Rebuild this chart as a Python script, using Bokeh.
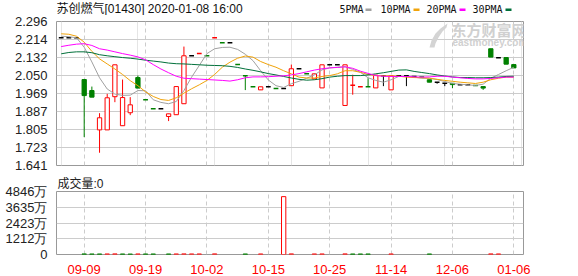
from bokeh.plotting import figure
from bokeh.models import (ColumnDataSource, Range1d, FixedTicker, Grid, Label,
                          NumeralTickFormatter, CustomJSTickFormatter)
from bokeh.core.properties import value
from bokeh.layouts import column
from bokeh.embed import file_html
from bokeh.resources import INLINE

# ---------------- data ----------------
title_text = "苏创燃气[01430] 2020-01-08 16:00"
volume_title = "成交量:0"
date_labels = ["09-09", "09-19", "10-02", "10-15", "10-25", "11-14", "12-06", "01-06"]
date_label_index = [3, 11, 19, 27, 35, 43, 51, 59]
price_ticks = [1.641, 1.723, 1.805, 1.887, 1.969, 2.050, 2.132, 2.214, 2.296]
volume_ticks = [0, 1212, 2423, 3635, 4846]          # 万
ma_names = ["5PMA", "10PMA", "20PMA", "30PMA"]

open_ = [2.222, 2.222, 2.222, 2.032, 1.982, 1.803, 1.803, 1.954, 1.822, 1.881,
         2.041, 1.940, 1.899, 1.899, 1.864, 1.872, 1.922, 2.140, 2.150, 2.140,
         2.222, 2.199, 2.199, 2.100, 2.049, 1.999, 1.985, 1.999, 1.991, 1.991,
         2.004, 2.081, 2.058, 2.035, 1.994, 2.099, 2.099, 1.914, 2.006, 1.999,
         1.999, 1.994, 2.049, 1.985, 2.049, 2.049, 2.046, 2.043, 2.031, 2.020,
         2.015, 2.015, 2.008, 2.008, 2.005, 2.000, 2.172, 2.131, 2.132, 2.100]
high = [2.222, 2.222, 2.222, 2.032, 2.000, 1.879, 1.967, 2.099, 2.032, 1.952,
        2.050, 1.940, 1.899, 1.899, 1.876, 2.000, 2.182, 2.140, 2.150, 2.140,
        2.222, 2.199, 2.199, 2.100, 2.049, 1.999, 1.999, 1.999, 1.991, 1.991,
        2.100, 2.081, 2.058, 2.058, 2.099, 2.099, 2.099, 2.099, 2.054, 1.999,
        2.038, 2.052, 2.049, 2.049, 2.049, 2.049, 2.046, 2.043, 2.031, 2.020,
        2.015, 2.015, 2.008, 2.008, 2.005, 2.000, 2.172, 2.131, 2.132, 2.100]
low = [2.222, 2.222, 2.222, 1.770, 1.952, 1.699, 1.803, 1.929, 1.822, 1.870,
       1.993, 1.940, 1.899, 1.899, 1.843, 1.872, 1.922, 2.140, 2.150, 2.140,
       2.222, 2.199, 2.199, 2.100, 1.984, 1.999, 1.985, 1.999, 1.991, 1.991,
       2.004, 2.081, 2.058, 2.035, 1.994, 2.099, 2.099, 1.914, 1.963, 1.999,
       1.999, 1.994, 2.002, 1.985, 2.049, 2.002, 2.046, 2.043, 2.020, 2.013,
       2.002, 1.993, 2.008, 2.008, 2.005, 1.985, 2.134, 2.131, 2.102, 2.085]
close = [2.222, 2.222, 2.222, 1.959, 1.952, 1.858, 1.949, 2.099, 1.950, 1.917,
         1.993, 1.940, 1.899, 1.899, 1.876, 2.000, 2.140, 2.140, 2.150, 2.140,
         2.222, 2.199, 2.199, 2.100, 2.049, 1.999, 1.999, 1.999, 1.991, 1.991,
         2.081, 2.081, 2.058, 2.058, 2.099, 2.099, 2.099, 2.099, 2.006, 1.999,
         1.999, 2.052, 2.049, 2.049, 2.049, 2.049, 2.046, 2.043, 2.020, 2.020,
         2.015, 2.009, 2.008, 2.008, 2.005, 1.993, 2.134, 2.131, 2.102, 2.085]
# colour direction of each candle as drawn: 1 red, -1 green, 0 black
candle_dir = [0, 0, 0, -1, -1, 1, 1, 1, 1, 1,
              -1, -1, -1, 0, 1, 1, 1, 0, 1, -1,
              1, -1, 0, -1, -1, -1, 1, 0, -1, 0,
              1, 0, -1, 1, 1, 0, 0, 1, 1, 1,
              -1, 1, 0, 1, 0, 0, 0, -1, -1, 0,
              0, -1, 0, 0, -1, -1, -1, 0, -1, -1]
# volume in 万 shares, and its colour direction
volume = [0, 0, 0, 45, 40, 40, 40, 45, 40, 35,
          40, 40, 40, 0, 40, 40, 45, 40, 40, 0,
          45, 0, 0, 0, 40, 0, 40, 0, 0, 4450,
          45, 0, 0, 40, 40, 0, 0, 45, 40, 40,
          40, 0, 0, 40, 0, 0, 0, 0, 40, 0,
          0, 0, 0, 0, 0, 0, 45, 40, 0, 0]
volume_dir = [0, 0, 0, -1, -1, -1, 1, 1, -1, -1,
              1, -1, -1, 0, -1, 1, 1, 1, 1, 0,
              1, 0, 0, 0, -1, 0, 1, 0, 0, 1,
              1, 0, 0, 1, 1, 0, 0, 1, -1, -1,
              -1, 0, 0, 1, 0, 0, 0, 0, -1, 0,
              0, 0, 0, 0, 0, 0, 1, 1, 0, 0]

ma5 = [2.229, 2.227, 2.222, 2.179, 2.112, 2.040, 1.989, 1.966, 1.960, 1.961,
       1.982, 1.981, 1.940, 1.928, 1.922, 1.932, 1.982, 2.043, 2.096, 2.150,
       2.172, 2.178, 2.179, 2.169, 2.147, 2.118, 2.072, 2.030, 2.004, 1.996,
       2.013, 2.024, 2.038, 2.053, 2.076, 2.085, 2.088, 2.090, 2.078, 2.065,
       2.040, 2.028, 2.020, 2.031, 2.046, 2.046, 2.043, 2.038, 2.038, 2.032,
       2.023, 2.014, 2.011, 2.008, 2.005, 2.011, 2.038, 2.055, 2.072, 2.088]
ma10 = [2.240, 2.238, 2.229, 2.202, 2.160, 2.126, 2.103, 2.080, 2.055, 2.027,
        2.004, 1.976, 1.955, 1.941, 1.937, 1.949, 1.970, 1.990, 2.008, 2.028,
        2.055, 2.088, 2.111, 2.129, 2.139, 2.134, 2.114, 2.100, 2.088, 2.072,
        2.058, 2.043, 2.039, 2.039, 2.046, 2.050, 2.058, 2.072, 2.072, 2.065,
        2.055, 2.050, 2.049, 2.049, 2.047, 2.043, 2.041, 2.040, 2.038, 2.033,
        2.028, 2.024, 2.020, 2.017, 2.014, 2.020, 2.031, 2.038, 2.043, 2.043]
ma20 = [2.182, 2.188, 2.193, 2.195, 2.187, 2.172, 2.166, 2.158, 2.150, 2.143,
        2.135, 2.122, 2.100, 2.080, 2.063, 2.047, 2.038, 2.036, 2.034, 2.032,
        2.030, 2.028, 2.025, 2.031, 2.040, 2.044, 2.044, 2.045, 2.047, 2.049,
        2.053, 2.059, 2.067, 2.075, 2.081, 2.085, 2.087, 2.090, 2.083, 2.070,
        2.060, 2.050, 2.047, 2.046, 2.046, 2.046, 2.044, 2.043, 2.044, 2.047,
        2.047, 2.043, 2.040, 2.037, 2.035, 2.035, 2.037, 2.040, 2.043, 2.043]
ma30 = [2.149, 2.155, 2.158, 2.158, 2.154, 2.145, 2.140, 2.136, 2.132, 2.129,
        2.125, 2.120, 2.116, 2.112, 2.107, 2.104, 2.103, 2.101, 2.099, 2.097,
        2.096, 2.095, 2.092, 2.087, 2.080, 2.074, 2.067, 2.059, 2.053, 2.046,
        2.039, 2.033, 2.029, 2.031, 2.036, 2.043, 2.047, 2.050, 2.050, 2.050,
        2.053, 2.058, 2.063, 2.069, 2.075, 2.076, 2.069, 2.064, 2.059, 2.053,
        2.048, 2.044, 2.041, 2.041, 2.040, 2.040, 2.041, 2.043, 2.046, 2.047]

# ---------------- styling ----------------
UP, DOWN, FLAT = "#ff0000", "#008000", "#000000"
COL = {1: UP, -1: DOWN, 0: FLAT}
MA_COLORS = ["#a0a0a0", "#f0a30a", "#ff00ff", "#00703a"]
GRID = "#cccccc"
BORDER = "#999999"
W = 578
HEAD_H = 15
FRAME_L, FRAME_R = 56, 523
X0, X1 = -0.61, 60.26
P_LO, P_HI = price_ticks[0], price_ticks[-1]
MAIN_TOP, MAIN_FRAME_H = 21, 144      # page pixels

def sx(px):
    return X0 + (px - FRAME_L) * (X1 - X0) / (FRAME_R - FRAME_L)

def sy(py):
    return P_HI - (py - MAIN_TOP) * (P_HI - P_LO) / MAIN_FRAME_H

idx = list(range(len(close)))

# ---------------- header strip (title + MA legend) ----------------
# the column aligns this strip's frame with the panels below (x 56..523), so the
# range is given in page pixels over that span
p0 = figure(width=W, height=HEAD_H, output_backend="svg", toolbar_location=None,
            x_range=Range1d(FRAME_L, FRAME_R), y_range=Range1d(HEAD_H, 0),
            x_axis_location=None, y_axis_location=None, min_border=0)
p0.outline_line_color = None
p0.xgrid.visible = False
p0.ygrid.visible = False
p0.text(x=[56], y=[8], text=[title_text], text_font=value("Liberation Sans, Noto Sans CJK SC"),
        text_font_size="12px", text_color="#111111", text_baseline="middle", text_align="left")
legend_text_px = [339, 380, 426, 472]
legend_sw_px = [365, 413, 459, 505]
p0.text(x=legend_text_px, y=[8.5] * 4, text=ma_names, text_font=value("DejaVu Sans Mono"),
        text_font_size="10px", text_color="#111111", text_baseline="middle", text_align="left")
p0.quad(left=legend_sw_px, right=[v + 6 for v in legend_sw_px], top=[8] * 4, bottom=[10.5] * 4,
        fill_color=MA_COLORS, line_color=None)

# ---------------- price panel ----------------
p1 = figure(width=W, height=158, output_backend="svg", toolbar_location=None,
            x_range=Range1d(X0, X1), y_range=Range1d(P_LO, P_HI),
            x_axis_location=None, min_border_left=FRAME_L, min_border_right=W - FRAME_R,
            min_border_top=MAIN_TOP - HEAD_H, min_border_bottom=8)
p1.outline_line_color = BORDER
p1.outline_line_width = 1
p1.background_fill_color = "white"
p1.border_fill_color = "white"

ya = p1.yaxis[0]
ya.ticker = FixedTicker(ticks=price_ticks)
ya.formatter = NumeralTickFormatter(format="0.000")
ya.axis_line_color = None
ya.major_tick_line_color = None
ya.minor_tick_line_color = None
ya.major_label_standoff = 3
ya.major_label_text_font = "Liberation Sans"
ya.major_label_text_font_size = "13px"
ya.major_label_text_color = "#222222"
p1.ygrid.ticker = FixedTicker(ticks=price_ticks)
p1.ygrid.grid_line_color = GRID
p1.add_layout(Grid(dimension=0, ticker=FixedTicker(ticks=date_label_index),
                   grid_line_color=GRID, grid_line_dash="4 3"))

# watermark (logo swoosh + text)
logo_px = [(429, 47), (431, 40), (435, 33), (440, 28), (447, 23), (446, 27), (442, 31),
           (438, 37), (435, 43), (434, 47)]
p1.patch([sx(a) for a, b in logo_px], [sy(b) for a, b in logo_px], fill_color="#d4d4d4",
         line_color=None)
p1.add_layout(Label(x=sx(451), y=sy(29), text="东方财富网", text_font="Noto Sans CJK SC",
                    text_font_style="bold", text_font_size="15px", text_color="#d0d0d0",
                    text_baseline="middle", text_align="left"))
p1.add_layout(Label(x=sx(452), y=sy(41.5), text="eastmoney.com", text_font="Liberation Sans",
                    text_font_style="bold", text_font_size="10px", text_color="#d0d0d0",
                    text_baseline="middle", text_align="left"))

wick = dict(x=[], y0=[], y1=[], c=[])
body = dict(x=[], y=[], h=[], fill=[], line=[])
doji = dict(x0=[], x1=[], y=[], c=[])
for i in idx:
    c = COL[candle_dir[i]]
    if high[i] > low[i]:
        wick["x"].append(i); wick["y0"].append(low[i]); wick["y1"].append(high[i]); wick["c"].append(c)
    if open_[i] != close[i]:
        body["x"].append(i)
        body["y"].append((open_[i] + close[i]) / 2)
        body["h"].append(abs(open_[i] - close[i]))
        body["fill"].append("white" if close[i] > open_[i] else c)
        body["line"].append(c)
    else:
        doji["x0"].append(i - 0.31); doji["x1"].append(i + 0.31)
        doji["y"].append(close[i]); doji["c"].append(c)

p1.segment(x0="x", y0="y0", x1="x", y1="y1", color="c", line_width=1,
           source=ColumnDataSource(wick))
p1.rect(x="x", y="y", width=0.56, height="h", fill_color="fill", line_color="line",
        line_width=1, source=ColumnDataSource(body))
p1.segment(x0="x0", y0="y", x1="x1", y1="y", color="c", line_width=1.5,
           source=ColumnDataSource(doji))

for ma, colr in [(ma5, MA_COLORS[0]), (ma10, MA_COLORS[1]), (ma30, MA_COLORS[3]), (ma20, MA_COLORS[2])]:
    p1.line(idx, ma, line_color=colr, line_width=1)

# ---------------- volume panel ----------------
V_TOP = volume_ticks[-1]
p2 = figure(width=W, height=103, output_backend="svg", toolbar_location=None,
            title=volume_title,
            x_range=p1.x_range, y_range=Range1d(0, V_TOP),
            min_border_left=FRAME_L, min_border_right=W - FRAME_R,
            min_border_top=13, min_border_bottom=21)
p2.title.align = "left"
p2.title.offset = 1
p2.title.standoff = 2
p2.title.text_font = "Liberation Sans, Noto Sans CJK SC"
p2.title.text_font_size = "12px"
p2.title.text_font_style = "normal"
p2.title.text_color = "#222222"
p2.outline_line_color = BORDER
p2.outline_line_width = 1
p2.background_fill_color = "white"
p2.border_fill_color = "white"

va = p2.yaxis[0]
va.ticker = FixedTicker(ticks=volume_ticks)
va.formatter = CustomJSTickFormatter(code="return tick == 0 ? '0' : tick.toFixed(0) + '万';")
xa = p2.xaxis[0]
xa.ticker = FixedTicker(ticks=date_label_index)
xa.formatter = CustomJSTickFormatter(args=dict(lab_idx=date_label_index, lab_txt=date_labels),
                                     code="const k = lab_idx.indexOf(tick); return k >= 0 ? lab_txt[k] : '';")
for ax in (va, xa):
    ax.axis_line_color = None
    ax.major_tick_line_color = None
    ax.minor_tick_line_color = None
    ax.major_label_text_font = "Liberation Sans"
    ax.major_label_text_font_size = "13px"
va.major_label_standoff = 3
va.major_label_text_color = "#222222"
xa.major_label_standoff = 4
xa.major_label_text_color = "#ff0000"
p2.ygrid.ticker = FixedTicker(ticks=volume_ticks)
p2.ygrid.grid_line_color = GRID
p2.xgrid.ticker = FixedTicker(ticks=date_label_index)
p2.xgrid.grid_line_color = GRID
p2.xgrid.grid_line_dash = "4 3"

vb = dict(x=[], top=[], fill=[], line=[])
for i in idx:
    if volume[i] > 0:
        c = COL[volume_dir[i]]
        vb["x"].append(i); vb["top"].append(volume[i])
        vb["fill"].append("white" if volume_dir[i] > 0 else c)
        vb["line"].append(c)
p2.vbar(x="x", top="top", bottom=0, width=0.56, fill_color="fill", line_color="line",
        line_width=1, source=ColumnDataSource(vb))

layout = column(p0, p1, p2, spacing=0)
open("out.html", "w").write(file_html(layout, INLINE))
